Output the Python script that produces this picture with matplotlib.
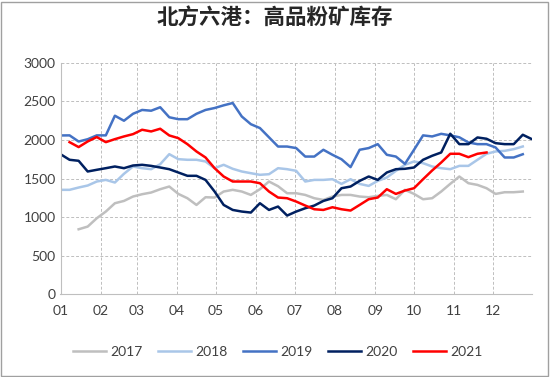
import numpy as np
import pandas as pd
import matplotlib.pyplot as plt
import matplotlib.dates as mdates

plt.rcParams['font.family'] = ['Lato', 'Noto Sans CJK SC', 'DejaVu Sans']

nan = np.nan
title = '北方六港：高品粉矿库存'

# weekly inventory (10k t), week 1 starts at the first day of the year
s2017 = [nan, nan, 841, 876, 984, 1071, 1179, 1209, 1266, 1296, 1318, 1361, 1396, 1300,
         1244, 1157, 1257, 1253, 1331, 1353, 1331, 1287, 1361, 1461, 1400, 1309, 1309,
         1287, 1244, 1222, 1266, 1287, 1287, 1266, 1257, 1274, 1287, 1231, 1353, 1300,
         1231, 1244, 1331, 1431, 1526, 1439, 1417, 1374, 1300, 1322, 1322, 1331]
s2018 = [1353, 1353, 1383, 1409, 1461, 1482, 1448, 1561, 1656, 1634, 1621, 1686, 1816,
         1751, 1743, 1743, 1721, 1634, 1678, 1626, 1591, 1569, 1548, 1556, 1634, 1621,
         1600, 1461, 1482, 1482, 1491, 1430, 1491, 1430, 1404, 1469, 1513, 1599, 1678,
         1721, 1699, 1656, 1634, 1621, 1664, 1664, 1743, 1821, 1851, 1859, 1881, 1916]
s2019 = [2059, 2060, 1980, 2010, 2060, 2060, 2315, 2250, 2340, 2390, 2380, 2425, 2295,
         2270, 2270, 2340, 2390, 2415, 2450, 2480, 2305, 2205, 2155, 2035, 1915, 1915,
         1895, 1785, 1785, 1873, 1808, 1750, 1648, 1873, 1895, 1946, 1808, 1785, 1690,
         1873, 2060, 2046, 2080, 2060, 2035, 1968, 1946, 1946, 1903, 1773, 1773, 1815]
s2020 = [1816, 1743, 1730, 1591, 1613, 1634, 1656, 1634, 1669, 1678, 1664, 1643, 1621,
         1578, 1535, 1535, 1482, 1331, 1157, 1092, 1071, 1058, 1179, 1092, 1136, 1019,
         1071, 1114, 1149, 1209, 1244, 1374, 1396, 1469, 1526, 1482, 1578, 1621, 1626,
         1643, 1743, 1795, 1838, 2081, 1946, 1946, 2033, 2016, 1959, 1946, 1946, 2068,
         2011]
s2021 = [nan, 1972, 1908, 1981, 2038, 1972, 2011, 2046, 2076, 2133, 2111, 2146, 2059,
         2024, 1946, 1851, 1773, 1634, 1526, 1461, 1461, 1461, 1439, 1331, 1253, 1244,
         1201, 1149, 1101, 1092, 1127, 1101, 1084, 1157, 1231, 1253, 1361, 1300, 1344,
         1374, 1491, 1604, 1708, 1821, 1821, 1777, 1821, 1838]

series = {
    '2017': (s2017, '#BFBFBF'),
    '2018': (s2018, '#A9C6E8'),
    '2019': (s2019, '#4472C4'),
    '2020': (s2020, '#002060'),
    '2021': (s2021, '#FF0000'),
}

fig = plt.figure(figsize=(5.5, 3.77), dpi=100)
ax = fig.add_axes([0.11, 0.22, 0.857, 0.613])

start = pd.Timestamp('2021-01-01')
for name, (vals, color) in series.items():
    dates = pd.date_range(start, periods=len(vals), freq='7D')
    ax.plot(dates, vals, color=color, lw=1.8, label=name)

ax.set_xlim(start, pd.Timestamp('2021-12-31'))
ax.set_ylim(0, 3000)
ax.set_yticks(np.arange(0, 3001, 500))
ax.xaxis.set_major_locator(mdates.MonthLocator())
ax.xaxis.set_major_formatter(mdates.DateFormatter('%m'))
ax.tick_params(axis='both', length=0, labelsize=10, colors='#404040')
ax.tick_params(axis='x', pad=8)
ax.grid(True, color='#BFBFBF', ls=(0, (3, 2)), lw=0.7)
for side in ['top', 'right']:
    ax.spines[side].set_visible(False)
ax.spines['left'].set_color('#BFBFBF')
ax.spines['bottom'].set_color('#BFBFBF')

fig.text(0.5, 0.952, title, ha='center', va='center', fontsize=15.5, fontweight='bold',
         family=['Noto Sans CJK SC', 'DejaVu Sans'], color='#262626')

fig.legend(loc='center', bbox_to_anchor=(0.505, 0.066), ncol=5, frameon=False,
           fontsize=10, handlelength=2.4, columnspacing=1.1, handletextpad=0.3,
           labelcolor='#404040')

border = plt.Rectangle((0.002, 0.003), 0.995, 0.993, transform=fig.transFigure,
                       fill=False, edgecolor='#A0A0A0', lw=1)
fig.patches.append(border)

fig.savefig('out.png', dpi=100)
